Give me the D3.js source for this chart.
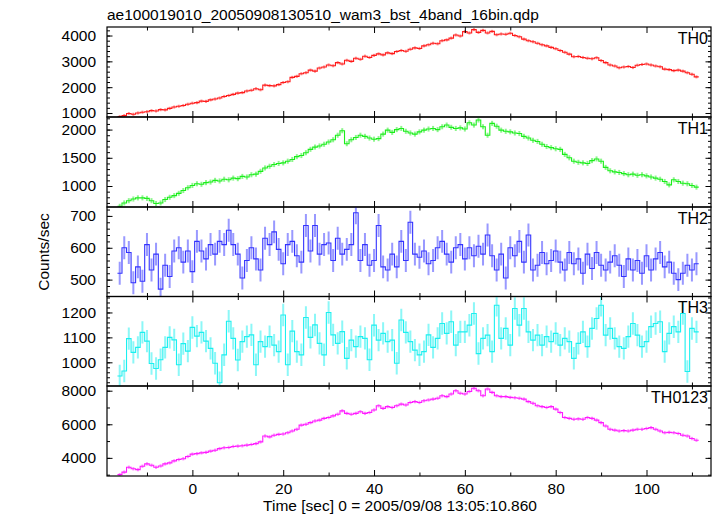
<!DOCTYPE html>
<html><head><meta charset="utf-8">
<script src="https://cdn.jsdelivr.net/npm/d3@7"></script>
<style>
body{margin:0;background:#fff}
svg{display:block}
text{font-family:"Liberation Sans",Arial,Helvetica,sans-serif;fill:#000}
</style>
</head><body>
<svg id="chart" width="717" height="516"></svg>
<script>
// ---------- data ----------
const titleText = "ae100019010_20050908130510_wam3_bst_4band_16bin.qdp";
const xTitle = "Time [sec] 0 = 2005/09/08 13:05:10.860";
const yTitle = "Counts/sec";
const seriesNames = ["TH0", "TH1", "TH2", "TH3", "TH0123"];
const timeStart = -16, timeBin = 1;   // bin centres in seconds
const xTicks = [0, 20, 40, 60, 80, 100];

const th0 = [
  860,900,980,950,1000,1030,1050,1090,1080,1130,1120,1180,1230,1260,1290,1340,
  1380,1400,1460,1450,1510,1540,1580,1640,1680,1720,1770,1790,1850,1880,1940,1900,
  2080,2060,2050,2100,2180,2210,2380,2420,2520,2560,2660,2620,2740,2780,2860,2830,
  2950,2900,3040,3000,3120,3080,3200,3150,3230,3290,3250,3330,3300,3380,3420,3390,
  3470,3520,3500,3600,3640,3700,3680,3800,3830,3900,4020,3980,4150,4100,4230,4120,
  4200,4100,4160,4030,4060,4050,4090,4000,3950,3860,3800,3760,3700,3640,3600,3540,
  3490,3420,3350,3280,3180,3190,3150,3120,3100,3140,3030,2950,2860,2820,2750,2780,
  2800,2760,2850,2880,2900,2860,2820,2790,2700,2680,2640,2660,2620,2560,2500,2400
];
const th1 = [
  640,700,740,770,790,790,780,740,690,700,760,800,830,870,920,970,
  1010,1040,1030,1060,1070,1100,1090,1120,1110,1140,1130,1170,1160,1200,1210,1260,
  1320,1350,1380,1400,1410,1440,1470,1520,1540,1590,1650,1690,1710,1740,1780,1820,
  1900,1980,1750,1820,1860,1900,1880,1850,1830,1840,1920,1990,1950,2000,2020,1970,
  1940,1920,1960,1990,2010,2020,2000,2050,2080,2040,2020,2030,2010,2120,2080,2170,
  2050,1900,2110,2060,1990,1970,1960,1940,1930,1880,1850,1810,1790,1740,1700,1680,
  1660,1650,1560,1500,1440,1420,1410,1400,1450,1480,1440,1330,1270,1250,1240,1220,
  1200,1210,1190,1200,1180,1160,1140,1120,1080,1020,1110,1080,1050,1040,1010,980
];
const th2 = [
  520,600,585,490,540,495,610,530,580,470,545,510,590,600,555,590,
  525,620,590,565,610,580,620,610,655,610,580,505,560,600,565,530,
  630,610,650,595,550,610,620,575,555,670,590,670,580,610,615,560,
  630,580,595,610,710,560,610,545,560,670,540,530,580,540,620,560,
  680,580,570,590,550,560,600,620,580,555,600,610,565,600,575,605,
  580,640,575,530,580,505,600,575,620,555,640,530,545,585,550,560,
  590,555,530,585,550,565,520,580,535,585,545,530,555,575,545,510,
  565,530,560,520,575,530,565,585,540,555,520,500,520,545,530,550
];
const th3 = [
  945,965,1095,1040,1060,1120,1085,995,975,1010,1060,1100,1090,990,1075,1045,
  1140,1105,1120,1085,1056,996,918,1030,1165,1096,1009,1083,1103,1110,990,1083,
  1063,1103,1069,1043,1190,990,1125,1043,1030,1180,1100,1150,1076,1030,1200,1110,
  1076,1123,1016,1089,1063,1103,1096,1010,1149,1089,1116,1083,1089,996,1170,1120,
  1083,1049,1030,1043,1110,1060,1096,1156,1116,1163,1069,1122,1122,1149,1196,1035,
  1096,1109,1043,1229,1096,1136,1069,1216,1149,1216,1122,1089,1109,1069,1103,1083,
  1116,1069,1096,1083,1016,1076,1122,1063,1136,1176,1229,1109,1136,1096,1063,1056,
  1103,1156,1109,1063,1083,1143,1156,1163,1043,1116,1143,1122,1196,963,1136,1122
];
const th0123 = [
  3000,3150,3440,3350,3300,3500,3640,3560,3440,3520,3640,3700,3820,3900,3950,4080,
  4220,4250,4300,4330,4400,4450,4550,4600,4620,4680,4700,4720,4760,4800,4850,4950,
  5300,5250,5350,5400,5420,5500,5600,5700,5950,6000,6100,6200,6250,6350,6400,6500,
  6600,6800,6650,6600,6650,6750,6650,6700,6850,7100,6950,7050,7000,7100,7200,7150,
  7300,7350,7300,7400,7450,7500,7550,7700,7650,7800,8000,7850,7800,7950,8150,8000,
  7700,8100,7900,7700,7650,7650,7600,7580,7550,7500,7350,7250,7100,7050,7000,7050,
  6900,6700,6400,6350,6300,6320,6300,6400,6350,6250,6100,5900,5700,5650,5600,5620,
  5600,5650,5700,5700,5750,5800,5700,5600,5500,5520,5500,5450,5350,5300,5150,5050
];
// 1-sigma errors (counts/sec)
const seriesErrors = [60, 45, 36, 45, 100];
// y tick labels per panel
const th0Ticks = [1000, 2000, 3000, 4000];
const th1Ticks = [1000, 1500, 2000];
const th2Ticks = [500, 600, 700];
const th3Ticks = [1000, 1100, 1200];
const th0123Ticks = [4000, 6000, 8000];

// ---------- layout / style ----------
const panels = [
  {name: seriesNames[0], values: th0,    err: seriesErrors[0], ticks: th0Ticks,    minor: 200,  domain: [845, 4330],  color: "#ff1a1a"},
  {name: seriesNames[1], values: th1,    err: seriesErrors[1], ticks: th1Ticks,    minor: 100,  domain: [628, 2223],  color: "#1aee1a"},
  {name: seriesNames[2], values: th2,    err: seriesErrors[2], ticks: th2Ticks,    minor: 20,   domain: [447, 728],   color: "#3333ff"},
  {name: seriesNames[3], values: th3,    err: seriesErrors[3], ticks: th3Ticks,    minor: 20,   domain: [905, 1264],  color: "#1af0f0"},
  {name: seriesNames[4], values: th0123, err: seriesErrors[4], ticks: th0123Ticks, minor: 1000, domain: [2920, 8280], color: "#ff1aff"}
];
const L = 107, R = 711;
const bounds = [27, 117, 207, 296.5, 386, 476];
const FS = "15.5px";

const svg = d3.select("#chart");
const x = d3.scaleLinear().domain([-18.8, 114.2]).range([L, R]);
const xMinor = d3.range(-10, 111, 10);

panels.forEach((p, i) => {
  const y0 = bounds[i], y1 = bounds[i + 1];
  const y = d3.scaleLinear().domain(p.domain).range([y1, y0]);
  const clipId = "clip" + i;
  svg.append("clipPath").attr("id", clipId).append("rect")
    .attr("x", L).attr("y", y0).attr("width", R - L).attr("height", y1 - y0);

  const data = p.values.map((v, k) => ({t: timeStart + k * timeBin, v}));
  const g = svg.append("g").attr("clip-path", `url(#${clipId})`);
  g.selectAll("line.err").data(data).join("line").attr("class", "err")
    .attr("x1", d => x(d.t)).attr("x2", d => x(d.t))
    .attr("y1", d => y(d.v - p.err)).attr("y2", d => y(d.v + p.err))
    .attr("stroke", p.color).attr("stroke-opacity", 0.5).attr("stroke-width", 2);
  // step line through the bins (bin edges)
  const stepPts = data.flatMap(d => [[d.t - timeBin / 2, d.v], [d.t + timeBin / 2, d.v]]);
  g.append("path").datum(stepPts)
    .attr("d", d3.line().x(d => x(d[0])).y(d => y(d[1])))
    .attr("fill", "none").attr("stroke", p.color).attr("stroke-width", 1.1);

  // y axes (left with labels, right ticks only), inward ticks
  const yMinor = d3.range(Math.ceil(p.domain[0] / p.minor) * p.minor, p.domain[1], p.minor);
  const axes = svg.append("g").attr("class", "axes");
  const clean = s => { s.select(".domain").remove(); s.selectAll("line").attr("stroke", "#000"); };
  axes.append("g").attr("transform", `translate(${L},0)`)
    .call(d3.axisLeft(y).tickValues(yMinor).tickSize(-3).tickFormat("")).call(clean);
  axes.append("g").attr("transform", `translate(${L},0)`)
    .call(d3.axisLeft(y).tickValues(p.ticks).tickSize(-5.5).tickPadding(11).tickFormat(d3.format("d")))
    .call(clean)
    .call(s => s.selectAll("text").style("font-size", FS).attr("fill", "#000"));
  axes.append("g").attr("transform", `translate(${R},0)`)
    .call(d3.axisRight(y).tickValues(yMinor).tickSize(-3).tickFormat("")).call(clean);
  axes.append("g").attr("transform", `translate(${R},0)`)
    .call(d3.axisRight(y).tickValues(p.ticks).tickSize(-5.5).tickFormat("")).call(clean);
  // x ticks top & bottom of each panel
  [[y0, d3.axisTop], [y1, d3.axisBottom]].forEach(([yy, ax]) => {
    axes.append("g").attr("transform", `translate(0,${yy})`)
      .call(ax(x).tickValues(xMinor.filter(v => xTicks.indexOf(v) < 0)).tickSize(-3.5).tickFormat("")).call(clean);
    const last = (i === panels.length - 1 && ax === d3.axisBottom);
    axes.append("g").attr("transform", `translate(0,${yy})`)
      .call(ax(x).tickValues(xTicks).tickSize(-6).tickPadding(7).tickFormat(last ? d3.format("d") : ""))
      .call(clean)
      .call(s => s.selectAll("text").style("font-size", FS).attr("fill", "#000"));
  });
  // frame
  svg.append("rect").attr("x", L).attr("y", y0).attr("width", R - L).attr("height", y1 - y0)
    .attr("fill", "none").attr("stroke", "#000").attr("stroke-width", 1.2);
  // panel label
  svg.append("text").attr("x", R - 3).attr("y", y0 + 16.5).attr("text-anchor", "end")
    .style("font-size", "16px").text(p.name);
});

svg.append("text").attr("x", L).attr("y", 20).style("font-size", FS).text(titleText);
svg.append("text").attr("x", 400).attr("y", 511).attr("text-anchor", "middle").style("font-size", FS).text(xTitle);
svg.append("text").attr("transform", "translate(48.5,252) rotate(-90)").attr("text-anchor", "middle")
  .style("font-size", FS).text(yTitle);
</script>
</body></html>
